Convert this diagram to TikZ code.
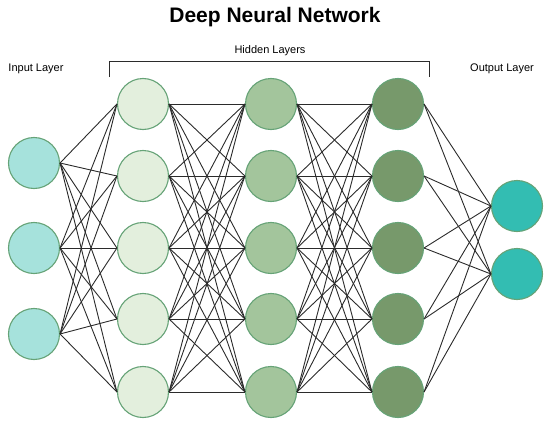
\documentclass[tikz,border=0pt]{standalone}
\usepackage{fontspec}
\setmainfont{Liberation Sans}
\definecolor{inF}{HTML}{A6E2DC}
\definecolor{hAF}{HTML}{E3EFDD}
\definecolor{hBF}{HTML}{A3C59C}
\definecolor{hCF}{HTML}{77996B}
\definecolor{outF}{HTML}{33BDB2}
\definecolor{bord}{HTML}{66A377}
\definecolor{edgec}{HTML}{2B2B2B}
\begin{document}
\begin{tikzpicture}[x=1pt,y=-1pt,
  neuron/.style={circle,draw=bord,line width=1.1pt,minimum size=51pt,inner sep=0pt},
  conn/.style={draw=edgec,line width=0.9pt},
  lbl/.style={font=\fontsize{11}{13}\selectfont,inner sep=0pt}]
\useasboundingbox (0,0) rectangle (550,423);
\node[font=\fontsize{21}{24}\bfseries\selectfont,inner sep=0pt] (title) at (275,17) {Deep Neural Network};
\node[lbl] (inl) at (36,69) {Input Layer};
\node[lbl] (outl) at (502,69) {Output Layer};
\node[lbl] (hidl) at (270,51) {Hidden Layers};
\coordinate (bl) at (109,77);
\coordinate (blt) at (109,61);
\coordinate (brt) at (429,61);
\coordinate (br) at (429,77);
\draw[draw=edgec,line width=1pt] (bl) -- (blt) -- (brt) -- (br);
% layers
\foreach \y [count=\i] in {163,248,334} \node[neuron,fill=inF] (i\i) at (34,\y) {};
\foreach \y [count=\i] in {104,176,248,319,392} \node[neuron,fill=hAF] (a\i) at (143,\y) {};
\foreach \y [count=\i] in {104,176,248,319,392} \node[neuron,fill=hBF] (b\i) at (271,\y) {};
\foreach \y [count=\i] in {104,176,248,319,392} \node[neuron,fill=hCF] (c\i) at (398,\y) {};
\foreach \y [count=\i] in {206,274} \node[neuron,fill=outF] (o\i) at (517,\y) {};
\begin{scope}[on background layer/.style={}]
\foreach \s in {1,2,3} \foreach \t in {1,...,5} \draw[conn] (i\s.east) -- (a\t.west);
\foreach \s in {1,...,5} \foreach \t in {1,...,5} \draw[conn] (a\s.east) -- (b\t.west);
\foreach \s in {1,...,5} \foreach \t in {1,...,5} \draw[conn] (b\s.east) -- (c\t.west);
\foreach \s in {1,...,5} \foreach \t in {1,2} \draw[conn] (c\s.east) -- (o\t.west);
\end{scope}
\end{tikzpicture}
\end{document}
